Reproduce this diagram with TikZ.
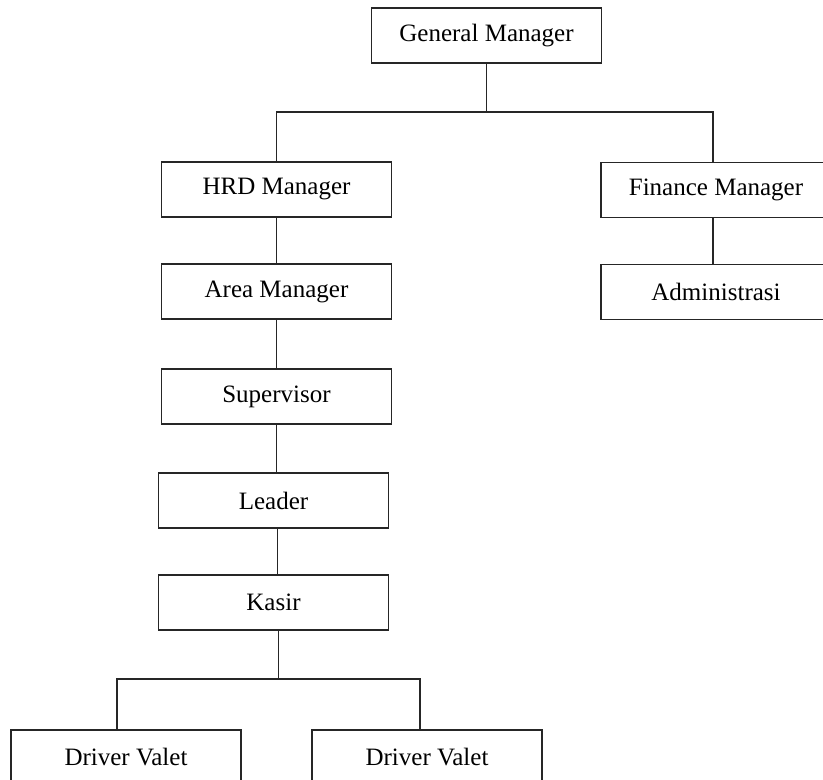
\documentclass[tikz,border=0pt]{standalone}
\usepackage{fontspec}
\setmainfont{Liberation Serif}
\usetikzlibrary{positioning}
\definecolor{boxline}{HTML}{262626}
\tikzset{
  post/.style ={draw=boxline,line width=0.8pt,minimum width=115pt,minimum height=27.5pt,
                inner sep=2pt,outer sep=0pt,align=center,font=\fontsize{12.5}{15}\selectfont},
  link/.style ={draw=boxline,line width=0.8pt}
}

\begin{document}
\begin{tikzpicture}[x=0.5pt,y=-0.5pt]
    \useasboundingbox (0,0) rectangle (823,780);
    \clip (0,0) rectangle (823,780);
    % top level
    \node[post] (gm) at (486.5,35.5) {General Manager};
    \node[post] (hrd) at (276.5,189.5) {HRD Manager};
    \node[post] (fin) at (716,190) {Finance Manager};
    \node[post,below=23.5pt of fin] (adm) {Administrasi};
    % operations line
    \node[post,below=23.5pt of hrd] (area) {Area Manager};
    \node[post,below=25pt of area] (sup) {Supervisor};
    \node[post,below=24.5pt of sup,xshift=-1.5pt] (lead) {Leader};
    \node[post,below=23.5pt of lead] (kasir) {Kasir};
    \node[post] (dv1) at (126,757.5) {Driver Valet};
    \node[post] (dv2) at (427,757.5) {Driver Valet};
    % connectors
    \draw[link] (gm.south) -- ++(0,49) coordinate (gmsplit);
    \draw[link] (hrd.north) |- (gmsplit) -| ([xshift=-1.5pt]fin.north);
    \draw[link] ([xshift=-1.5pt]fin.south) -- ([xshift=-1.5pt]adm.north);
    \draw[link] (hrd) -- (area); \draw[link] (area) -- (sup);
    \draw[link] (sup.south) -- (sup.south |- lead.north);
    \draw[link] ([xshift=2pt]lead.south) -- ([xshift=2pt]kasir.north);
    \draw[link] ([xshift=2.5pt]kasir.south) -- ++(0,49) coordinate (kasplit);
    \draw[link] ([xshift=-4.5pt]dv1.north) |- (kasplit) -| ([xshift=-3.5pt]dv2.north);
\end{tikzpicture}
\end{document}
